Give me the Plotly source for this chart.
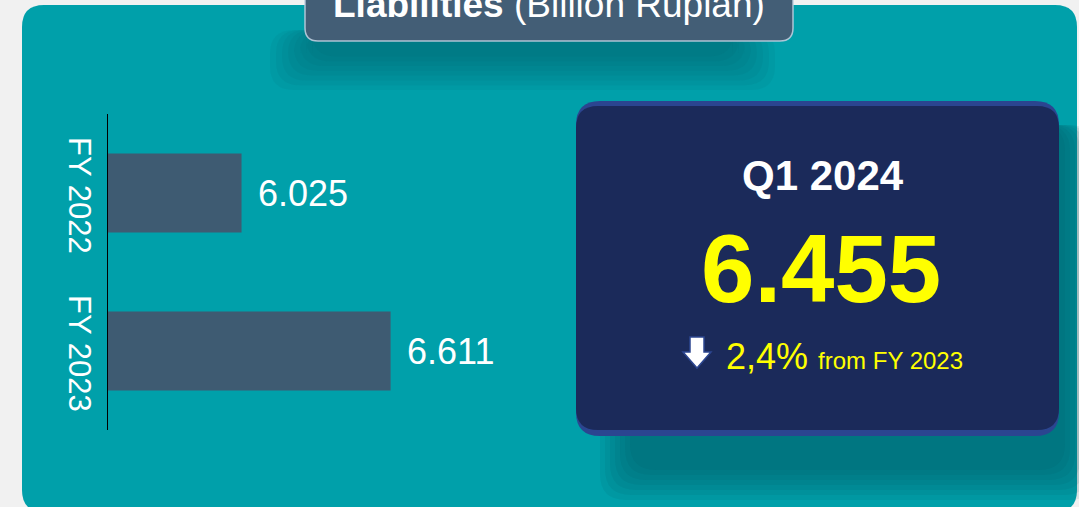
import plotly.graph_objects as go

W, H = 1079, 507

# data
categories = ["FY 2022", "FY 2023"]
values = [6.025, 6.611]
value_labels = ["6.025", "6.611"]
title_bold = "Liabilities"
title_rest = " (Billion Rupiah)"
kpi_period = "Q1 2024"
kpi_value = "6.455"
kpi_change = "2,4%"
kpi_change_note = "from FY 2023"

FONT = "Arial, Liberation Sans, sans-serif"
TEAL = "#00A0AA"
BAR = "#3E5B72"
NAVY = "#1B2A5A"
YELLOW = "#FFFF00"


def px(x):
    return x / W


def py(y):
    return 1 - y / H


def rrect(x0, y0, x1, y1, r):
    """Rounded rectangle path, pixel coords in, paper coords out."""
    pts = [
        ("M", x0 + r, y0), ("L", x1 - r, y0), ("Q", x1, y0, x1, y0 + r),
        ("L", x1, y1 - r), ("Q", x1, y1, x1 - r, y1), ("L", x0 + r, y1),
        ("Q", x0, y1, x0, y1 - r), ("L", x0, y0 + r), ("Q", x0, y0, x0 + r, y0),
    ]
    out = []
    for p in pts:
        cmd, coords = p[0], p[1:]
        xy = []
        for i in range(0, len(coords), 2):
            xy.append(f"{px(coords[i]):.5f},{py(coords[i + 1]):.5f}")
        out.append(cmd + " " + " ".join(xy))
    return " ".join(out) + " Z"


def box(x0, y0, x1, y1, r, fill, line=None, lw=0, opacity=1.0):
    return dict(type="path", xref="paper", yref="paper", path=rrect(x0, y0, x1, y1, r),
                fillcolor=fill, line=dict(color=line or "rgba(0,0,0,0)", width=lw),
                opacity=opacity, layer="below")


shapes = [box(22, 5, 1077, 512, 22, TEAL)]

# soft shadow under the title tab
for i in range(8):
    g = i * 6
    shapes.append(box(270 + g, 30, 775 - g, 90 - g * 0.8, 24, "#005A62", opacity=0.08))

# soft shadow behind the KPI card
for i in range(7):
    g = i * 5
    shapes.append(box(600 + g, 125, 1095 - g, 500 - g, 26, "#004F57", opacity=0.09))

# title tab
shapes.append(box(305, -25, 793, 41, 13, "#435E76", line="rgba(190,205,222,0.9)", lw=1.5))

# KPI card with lighter rim
shapes.append(box(576, 101, 1059, 436, 24, "#2B4590"))
shapes.append(box(576, 106, 1059, 430, 22, NAVY))

# down arrow
ax = [690, 704, 704, 711, 697, 683, 690]
ay = [337, 337, 352, 352, 368, 352, 352]
arrow = "M " + " L ".join(f"{px(a):.5f},{py(b):.5f}" for a, b in zip(ax, ay)) + " Z"
shapes.append(dict(type="path", xref="paper", yref="paper", path=arrow,
                   fillcolor="white", line=dict(color="#2C4690", width=1.5)))

fig = go.Figure()
fig.add_trace(go.Bar(
    x=values, y=categories, orientation="h",
    marker=dict(color=BAR, line=dict(width=0)),
    width=0.5, hoverinfo="skip", showlegend=False,
))

annotations = []
for cat, v, lab in zip(categories, values, value_labels):
    annotations.append(dict(x=v, y=cat, xref="x", yref="y", text=lab, showarrow=False,
                            xanchor="left", yanchor="middle", xshift=14,
                            font=dict(family=FONT, size=36, color="white")))

annotations += [
    dict(x=px(549), y=py(4), xref="paper", yref="paper", showarrow=False,
         text=f"<b>{title_bold}</b>{title_rest}", xanchor="center", yanchor="middle",
         font=dict(family=FONT, size=37, color="white")),
    dict(x=px(823), y=py(175), xref="paper", yref="paper", showarrow=False,
         text=f"<b>{kpi_period}</b>", xanchor="center", yanchor="middle",
         font=dict(family=FONT, size=42, color="white")),
    dict(x=px(821), y=py(268), xref="paper", yref="paper", showarrow=False,
         text=f"<b>{kpi_value}</b>", xanchor="center", yanchor="middle",
         font=dict(family=FONT, size=96, color=YELLOW)),
    dict(x=px(724), y=py(356), xref="paper", yref="paper", showarrow=False,
         text=f"{kpi_change} <span style='font-size:24px'>{kpi_change_note}</span>",
         xanchor="left", yanchor="middle",
         font=dict(family=FONT, size=36, color=YELLOW)),
]

fig.update_layout(
    width=W, height=H,
    margin=dict(l=0, r=0, t=0, b=0),
    paper_bgcolor="#F1F1F1",
    plot_bgcolor="rgba(0,0,0,0)",
    shapes=shapes,
    annotations=annotations,
    bargap=0.5,
    xaxis=dict(visible=False, range=[5.5, 7.277], domain=[px(108), px(560)], fixedrange=True),
    yaxis=dict(
        type="category", range=[1.5, -0.5], domain=[py(430), py(114)],
        showline=True, linecolor="black", linewidth=1, showgrid=False, zeroline=False,
        ticks="", tickangle=90, ticklabelstandoff=1, ticklabelshift=-7,
        tickfont=dict(family=FONT, size=31, color="white"),
    ),
)

fig.write_html("out.html", config={"displayModeBar": False},
               post_script="document.body.style.margin='0';")
